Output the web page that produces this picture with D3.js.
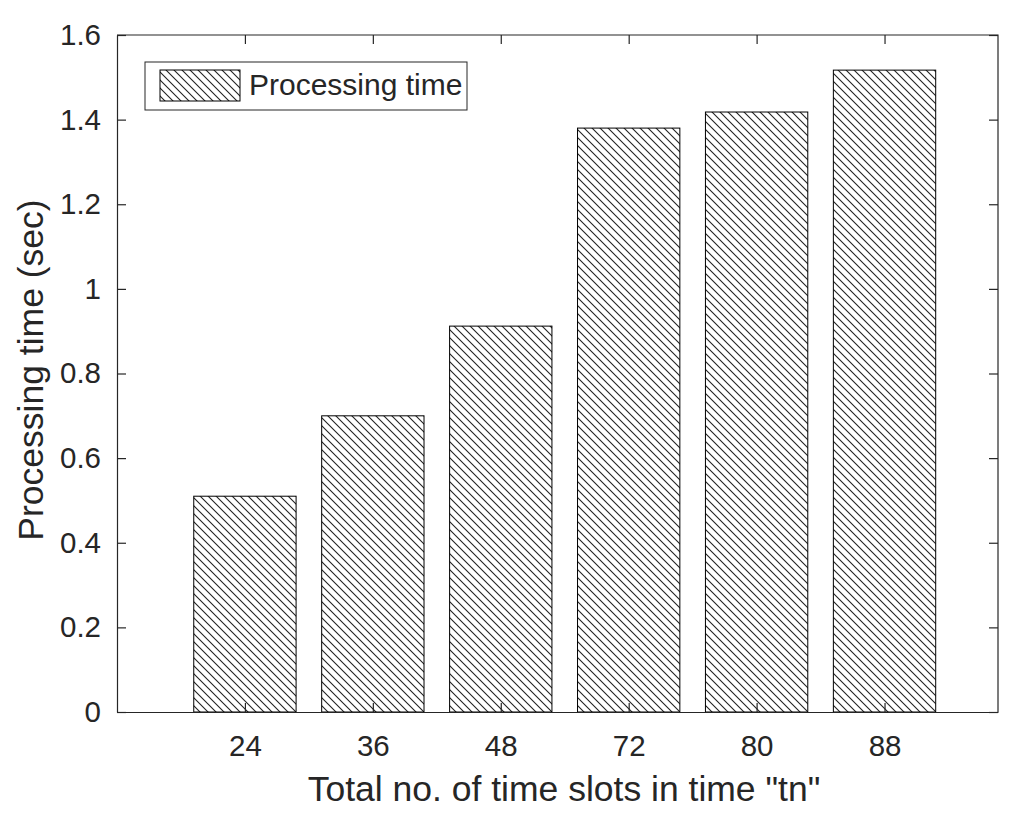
<!DOCTYPE html>
<html><head><meta charset="utf-8">
<script src="https://cdn.jsdelivr.net/npm/d3@7"></script>
<style>body{margin:0;background:#fff;} text{font-family:"Liberation Sans",Arial,sans-serif;fill:#262626;}</style>
</head><body>
<svg id="c" width="1024" height="817"></svg>
<script>
const categories = ["24","36","48","72","80","88"];
const values = [0.51, 0.70, 0.912, 1.38, 1.418, 1.517];
const yTicks = [0,0.2,0.4,0.6,0.8,1,1.2,1.4,1.6];
const seriesName = "Processing time";

const svg = d3.select("#c");
const L=117, R=998, T=35, B=712;
const x = d3.scaleLinear().domain([0,6.887]).range([L,R]);
const y = d3.scaleLinear().domain([0,1.6]).range([B,T]);
const bw = x(0.8)-x(0);

const defs = svg.append("defs");
const pat = defs.append("pattern").attr("id","hatch").attr("patternUnits","userSpaceOnUse")
  .attr("width",8).attr("height",8);
pat.append("rect").attr("width",8).attr("height",8).attr("fill","#fff");
pat.append("path").attr("d","M-2,6 L2,10 M0,0 L8,8 M6,-2 L10,2")
  .attr("stroke","#222").attr("stroke-width",1.1);

svg.append("rect").attr("x",L).attr("y",T).attr("width",R-L).attr("height",B-T).attr("fill","#fff");

svg.selectAll("rect.bar").data(values).join("rect").attr("class","bar")
  .attr("x",(d,i)=>x(i+1)-bw/2).attr("y",d=>y(d))
  .attr("width",bw).attr("height",d=>y(0)-y(d))
  .attr("fill","url(#hatch)").attr("stroke","#000").attr("stroke-width",1);

// axes
const ax = svg.append("g").attr("transform",`translate(0,${B})`)
  .call(d3.axisBottom(x).tickValues(d3.range(1,7)).tickFormat(i=>categories[i-1]).tickSizeInner(-9).tickSizeOuter(0).tickPadding(23));
const ay = svg.append("g").attr("transform",`translate(${L},0)`)
  .call(d3.axisLeft(y).tickValues(yTicks).tickFormat(d=>d3.format("")(+d.toFixed(1))).tickSizeInner(-9).tickSizeOuter(0).tickPadding(16));
const ayR = svg.append("g").attr("transform",`translate(${R},0)`)
  .call(d3.axisRight(y).tickValues(yTicks).tickFormat("").tickSizeInner(-9).tickSizeOuter(0));
const axT = svg.append("g").attr("transform",`translate(0,${T})`)
  .call(d3.axisTop(x).tickValues(d3.range(1,7)).tickFormat("").tickSizeInner(-9).tickSizeOuter(0));
[ax,ay,ayR,axT].forEach(g=>{
  g.selectAll("path.domain").attr("stroke","#262626").attr("stroke-width",1.2);
  g.selectAll(".tick line").attr("stroke","#262626").attr("stroke-width",1.2);
  g.selectAll("text").attr("font-size",29.5).attr("fill","#262626").style("font-family","'Liberation Sans',Arial,sans-serif");
});
axT.select("path.domain").remove(); ayR.select("path.domain").remove();
svg.append("path").attr("d",`M${L},${T}H${R}V${B}`).attr("fill","none").attr("stroke","#262626").attr("stroke-width",1.2);

// labels
svg.append("text").attr("x",564).attr("y",801).attr("text-anchor","middle").attr("font-size",35.5)
  .text('Total no. of time slots in time "tn"');
svg.append("text").attr("transform",`translate(43,370) rotate(-90)`).attr("text-anchor","middle").attr("font-size",35.5)
  .text("Processing time (sec)");

// legend
const lg = svg.append("g");
lg.append("rect").attr("x",145).attr("y",62).attr("width",322).attr("height",48).attr("fill","#fff").attr("stroke","#262626").attr("stroke-width",1);
lg.append("rect").attr("x",160).attr("y",70).attr("width",80).attr("height",31).attr("fill","url(#hatch)").attr("stroke","#000").attr("stroke-width",1);
lg.append("text").attr("x",249).attr("y",95).attr("font-size",30).attr("fill","#000").text(seriesName);
</script>
</body></html>
